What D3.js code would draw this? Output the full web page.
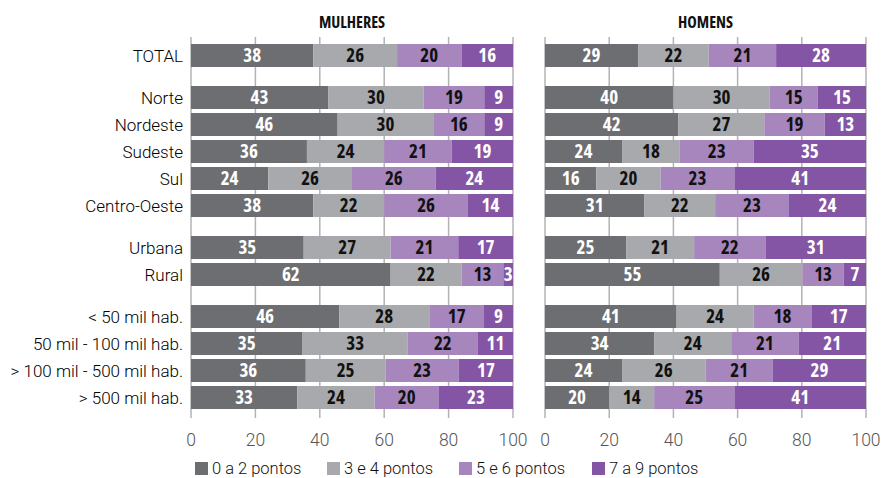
<!DOCTYPE html>
<html>
<head>
<meta charset="utf-8">
<script src="https://cdn.jsdelivr.net/npm/d3@7"></script>
<style>
  html, body { margin: 0; padding: 0; background: #ffffff; }
  svg { display: block; }
  .cat { font-family: Roboto, "Open Sans", sans-serif; font-weight: 300; font-size: 17px; fill: #000000; }
  .tick-label { font-family: Roboto, "Open Sans", sans-serif; font-weight: 300; font-size: 17.5px; fill: #555555; }
  .val { font-family: "Open Sans", sans-serif; font-weight: 700; font-stretch: 75%; font-size: 19px; }
  .title { font-family: "Open Sans", sans-serif; font-weight: 700; font-stretch: 75%; font-size: 16px; fill: #111; }
  .leg { font-family: Roboto, "Open Sans", sans-serif; font-weight: 300; font-size: 16.5px; fill: #111111; }
</style>
</head>
<body>
<svg id="chart" width="883" height="478"></svg>
<script>
// ---------- DATA ----------
const categories = ["TOTAL", "Norte", "Nordeste", "Sudeste", "Sul", "Centro-Oeste",
  "Urbana", "Rural", "< 50 mil hab.", "50 mil - 100 mil hab.", "> 100 mil - 500 mil hab.", "> 500 mil hab."];
const groups = [0, 1, 1, 1, 1, 1, 2, 2, 3, 3, 3, 3];
const seriesNames = ["0 a 2 pontos", "3 e 4 pontos", "5 e 6 pontos", "7 a 9 pontos"];
const panels = ["MULHERES", "HOMENS"];

const mulheres_0a2 = [38, 43, 46, 36, 24, 38, 35, 62, 46, 35, 36, 33];
const mulheres_3e4 = [26, 30, 30, 24, 26, 22, 27, 22, 28, 33, 25, 24];
const mulheres_5e6 = [20, 19, 16, 21, 26, 26, 21, 13, 17, 22, 23, 20];
const mulheres_7a9 = [16, 9, 9, 19, 24, 14, 17, 3, 9, 11, 17, 23];

const homens_0a2 = [29, 40, 42, 24, 16, 31, 25, 55, 41, 34, 24, 20];
const homens_3e4 = [22, 30, 27, 18, 20, 22, 21, 26, 24, 24, 26, 14];
const homens_5e6 = [21, 15, 19, 23, 23, 23, 22, 13, 18, 21, 21, 25];
const homens_7a9 = [28, 15, 13, 35, 41, 24, 31, 7, 17, 21, 29, 41];

const xTicks = [0, 20, 40, 60, 80, 100];

// ---------- STYLE ----------
const colors = ["#6d6e71", "#a7a9ac", "#a686bd", "#8455a5"];
const textColors = ["#ffffff", "#111111", "#111111", "#ffffff"];

const svg = d3.select("#chart");

const panelData = [
  [mulheres_0a2, mulheres_3e4, mulheres_5e6, mulheres_7a9],
  [homens_0a2, homens_3e4, homens_5e6, homens_7a9]
];
const panelRanges = [[191, 513], [545, 866]];

const step = 27;
const gapRatio = 15 / 27;
const slots = categories.map((c, i) => i + groups[i] * gapRatio);
const nSlots = slots[slots.length - 1] + 1;
const plotTop = 42;
const y = d3.scaleLinear().domain([0, nSlots]).range([plotTop, plotTop + nSlots * step]);
const barH = 23;
const barOff = (step - barH) / 2;

const gridTop = 37, gridBottom = 418;

panels.forEach((pname, p) => {
  const x = d3.scaleLinear().domain([0, 100]).range(panelRanges[p]);
  const g = svg.append("g");

  g.selectAll("line.grid").data(xTicks).join("line")
    .attr("class", "grid")
    .attr("x1", d => x(d)).attr("x2", d => x(d))
    .attr("y1", gridTop).attr("y2", gridBottom)
    .attr("stroke", "#b3b3b3").attr("stroke-width", 1.5);

  g.selectAll("text.tick-label").data(xTicks).join("text")
    .attr("class", "tick-label")
    .attr("x", d => x(d)).attr("y", 446)
    .attr("text-anchor", "middle")
    .text(d => d);

  g.append("text").attr("class", "title")
    .attr("x", (panelRanges[p][0] + panelRanges[p][1]) / 2)
    .attr("y", 28).attr("text-anchor", "middle").text(pname);

  const rows = categories.map((c, i) => {
    const o = { cat: c, i };
    seriesNames.forEach((s, k) => o[s] = panelData[p][k][i]);
    return o;
  });
  const stacked = d3.stack().keys(seriesNames).offset(d3.stackOffsetExpand)(rows);

  stacked.forEach((layer, k) => {
    const lg = g.append("g");
    lg.selectAll("rect").data(layer).join("rect")
      .attr("x", d => x(d[0] * 100))
      .attr("width", d => x(d[1] * 100) - x(d[0] * 100))
      .attr("y", d => y(slots[d.data.i]) + barOff)
      .attr("height", barH)
      .attr("fill", colors[k]);
    lg.selectAll("text").data(layer).join("text")
      .attr("class", "val")
      .attr("x", d => (x(d[0] * 100) + x(d[1] * 100)) / 2)
      .attr("y", d => y(slots[d.data.i]) + barOff + barH / 2)
      .attr("dy", "0.36em")
      .attr("text-anchor", "middle")
      .attr("fill", textColors[k])
      .text(d => d.data[seriesNames[k]]);
  });
});

svg.append("g").selectAll("text").data(categories).join("text")
  .attr("class", "cat")
  .attr("x", 183)
  .attr("y", (d, i) => y(slots[i]) + step / 2)
  .attr("dy", "0.36em")
  .attr("text-anchor", "end")
  .text(d => d);

const legX = [195, 327, 459, 592];
const leg = svg.append("g");
seriesNames.forEach((s, k) => {
  leg.append("rect").attr("x", legX[k]).attr("y", 462).attr("width", 13).attr("height", 13).attr("fill", colors[k]);
  leg.append("text").attr("class", "leg").attr("x", legX[k] + 17).attr("y", 474).text(s);
});
</script>
</body>
</html>
